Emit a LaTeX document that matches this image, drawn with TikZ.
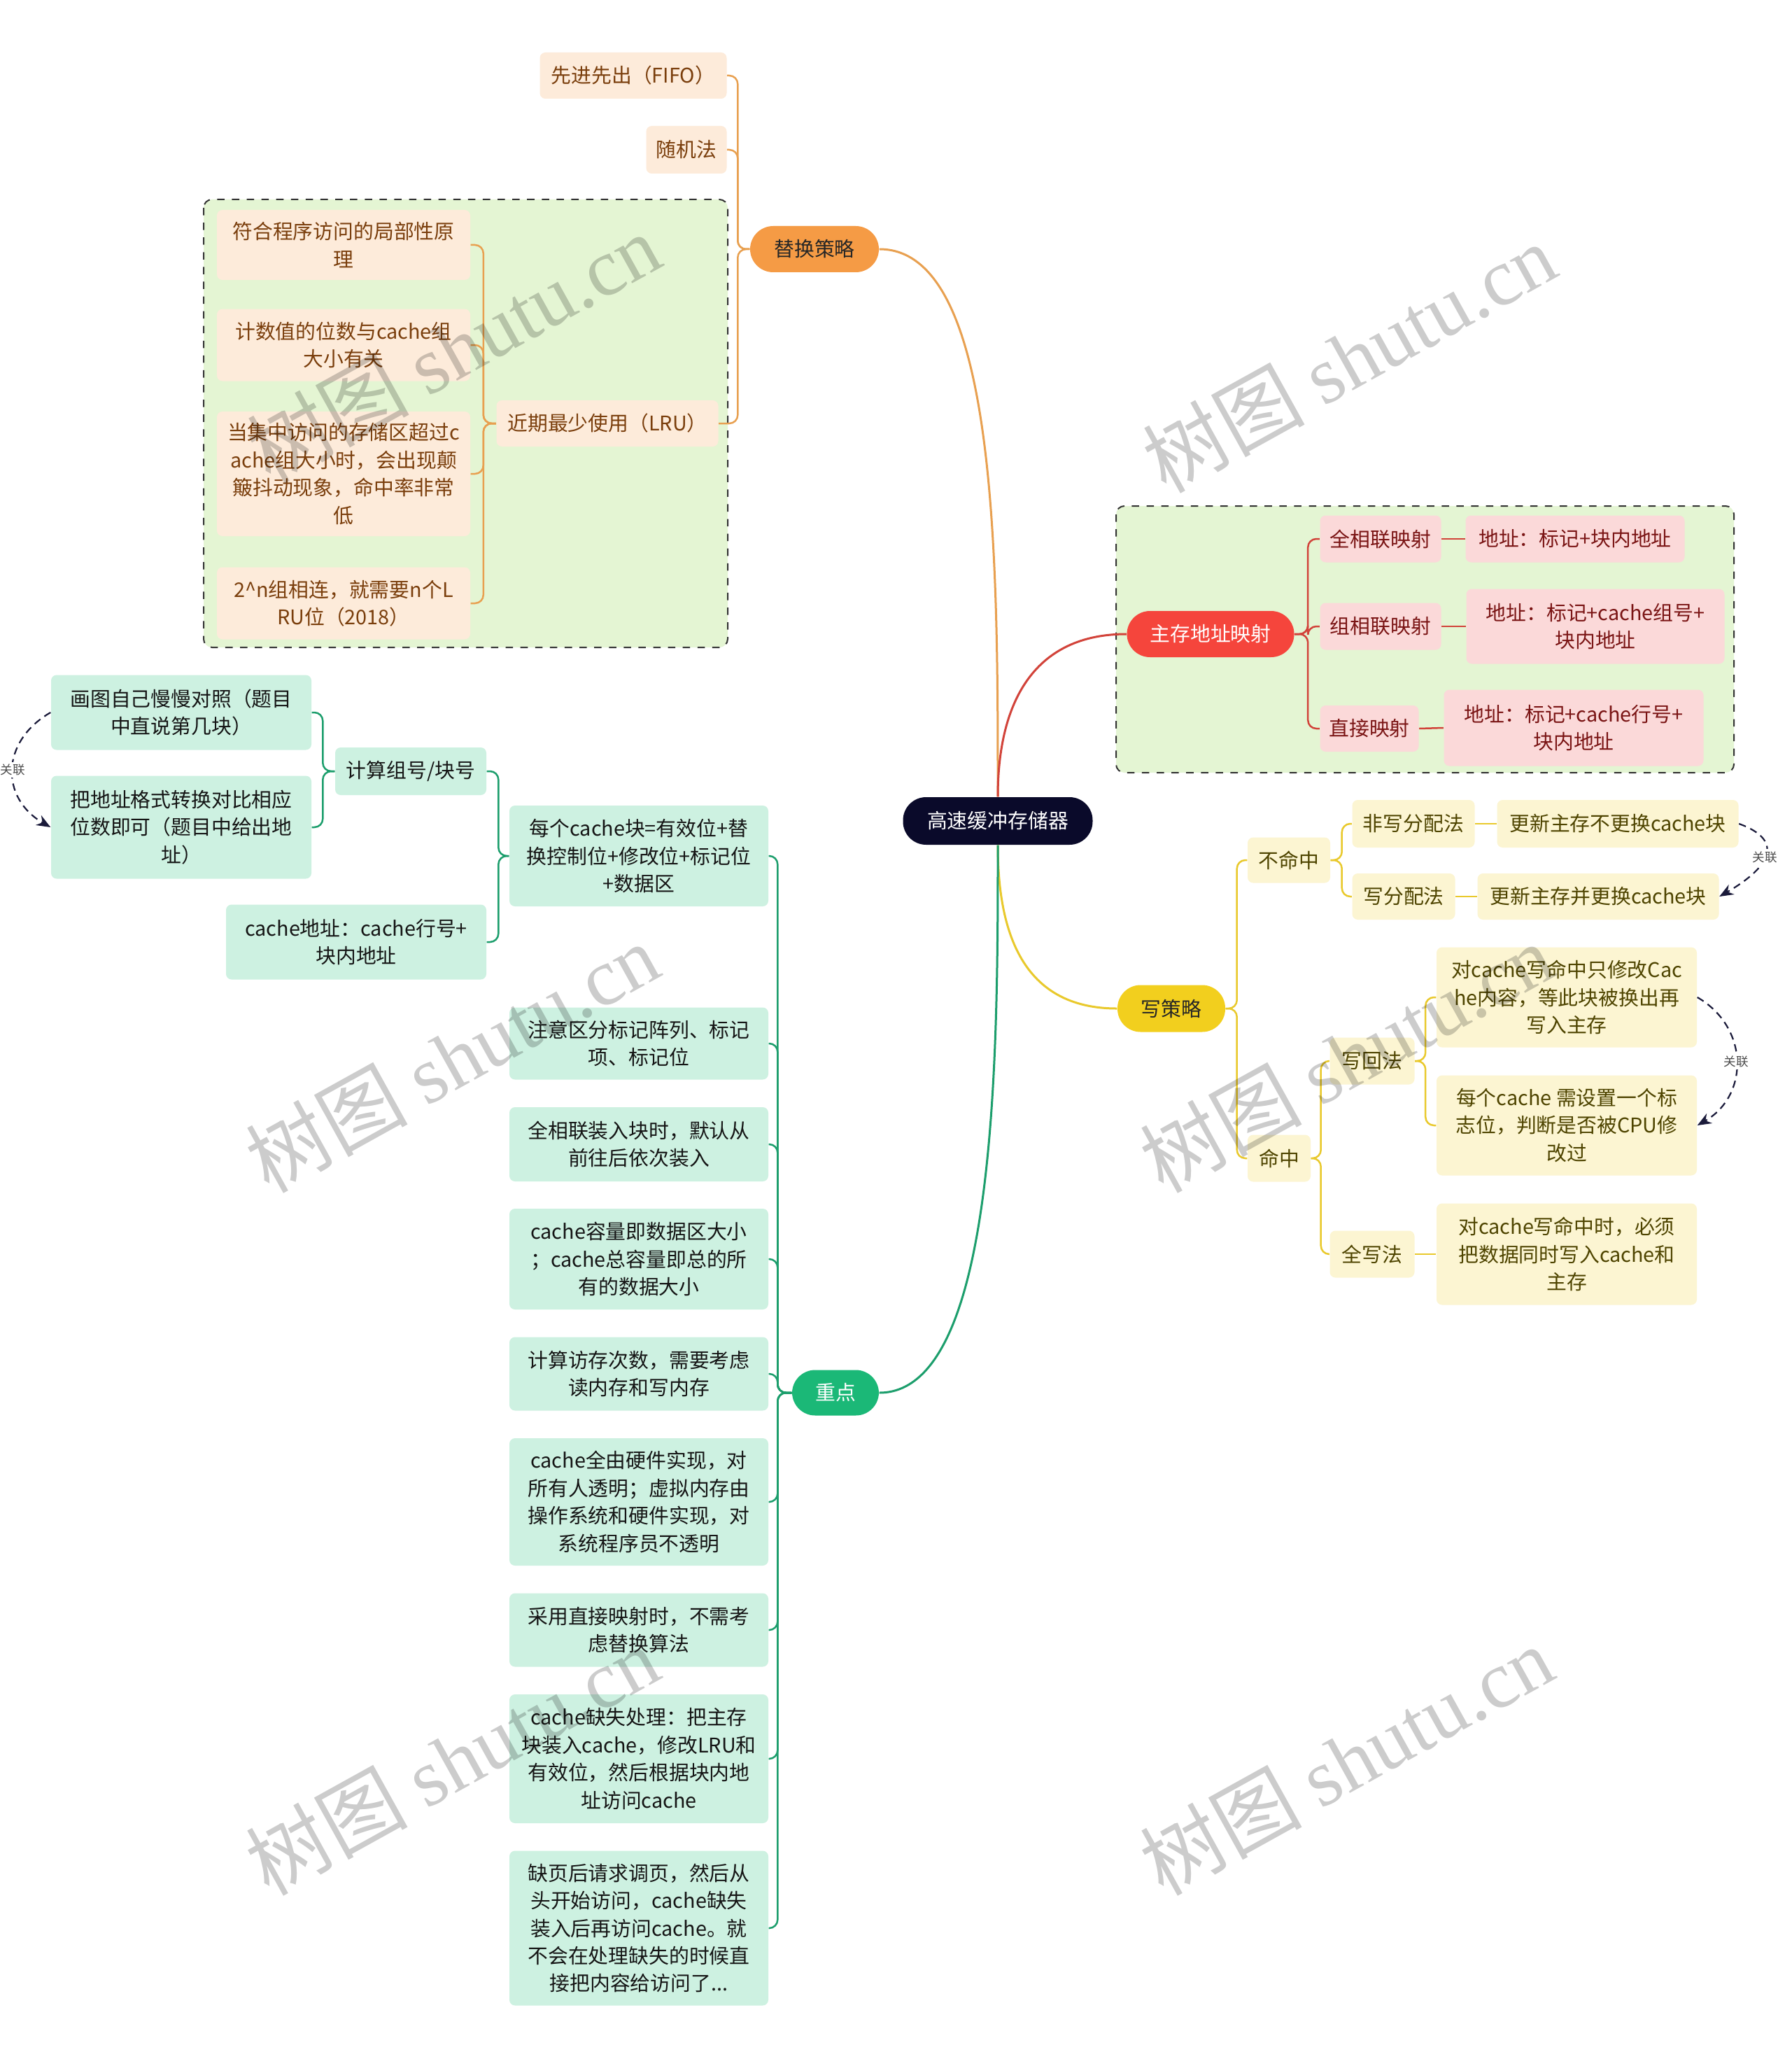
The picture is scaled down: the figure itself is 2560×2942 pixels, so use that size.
\documentclass[tikz,border=0pt]{standalone}
\usepackage{fontspec}
\setmainfont{Noto Sans CJK SC}
\newfontfamily\wmserif{Liberation Serif}
\usetikzlibrary{arrows.meta,positioning}
\definecolor{rootc}{HTML}{0A0A2A}
\definecolor{omain}{HTML}{F59B45}
\definecolor{oline}{HTML}{E8A050}
\definecolor{ofill}{HTML}{FDEBDA}
\definecolor{otext}{HTML}{7A3E0C}
\definecolor{rmain}{HTML}{F5453C}
\definecolor{rline}{HTML}{D2433A}
\definecolor{rfill}{HTML}{FBD9D9}
\definecolor{rtext}{HTML}{7A1414}
\definecolor{ymain}{HTML}{F2CF1E}
\definecolor{yline}{HTML}{E9C92C}
\definecolor{yfill}{HTML}{FCF5D2}
\definecolor{ytext}{HTML}{4E4400}
\definecolor{gmain}{HTML}{1BB877}
\definecolor{gline}{HTML}{1C9E6C}
\definecolor{gfill}{HTML}{CDF1E1}
\definecolor{gtext}{HTML}{151515}
\definecolor{grpfill}{HTML}{E4F5D3}
\definecolor{relc}{HTML}{1A1A3A}

\begin{document}
\begin{tikzpicture}[x=0.1mm, y=-0.1mm,
box/.style={inner sep=0pt, align=center, rounded corners=0.8mm, font=\fontsize{8.2}{11.2}\selectfont},
mainbox/.style={box, rounded corners=3.3mm},
obox/.style={box, fill=ofill, text=otext},
rbox/.style={box, fill=rfill, text=rtext},
ybox/.style={box, fill=yfill, text=ytext},
gbox/.style={box, fill=gfill, text=gtext},
group/.style={draw=black!80, dashed, fill=grpfill, rounded corners=1.2mm, line width=0.2mm},
olink/.style={draw=oline, line width=0.25mm, rounded corners=1.2mm},
rlink/.style={draw=rline, line width=0.25mm, rounded corners=1.2mm},
ylink/.style={draw=yline, line width=0.25mm, rounded corners=1.2mm},
glink/.style={draw=gline, line width=0.25mm, rounded corners=1.2mm},
rel/.style={draw=relc, densely dashed, line width=0.22mm, -{Stealth[length=2mm, width=1.6mm]}},
rellabel/.style={fill=white, inner sep=0.3mm, text=black!70, font=\fontsize{5}{6}\selectfont},
wmark/.style={rotate=29, text=black, text opacity=0.2, font=\fontsize{33}{33}\selectfont}
]
\useasboundingbox (0,0) rectangle (2560,2942);
\fill[white] (0,0) rectangle (2560,2942);

% group frames
\draw[group] (291,285) rectangle (1040,925);
\draw[group] (1595,723) rectangle (2478,1104);

% centre
\node[mainbox, fill=rootc, text=white, minimum width=27.1mm, minimum height=6.8mm] (cache) at (1426,1173) {高速缓冲存储器};

% replacement
\node[mainbox, fill=omain, text=black!85, minimum width=18.4mm, minimum height=6.6mm] (repl) at (1164,356) {替换策略};
\node[obox, minimum width=26.7mm, minimum height=6.6mm] (fifo) at (905,108) {先进先出（FIFO）};
\node[obox, minimum width=11.5mm, minimum height=6.8mm] (rand) at (981,214) {随机法};
\node[obox, minimum width=31.7mm, minimum height=6.6mm] (lru) at (868,605) {近期最少使用（LRU）};
\node[obox, minimum width=36.2mm, minimum height=10mm] (lru1) at (491,350) {符合程序访问的局部性原\\理};
\node[obox, minimum width=36.2mm, minimum height=10.3mm] (lru2) at (491,493) {计数值的位数与cache组\\大小有关};
\node[obox, minimum width=36.2mm, minimum height=17.8mm] (lru3) at (491,677) {当集中访问的存储区超过c\\ache组大小时，会出现颠\\簸抖动现象，命中率非常\\低};
\node[obox, minimum width=36.2mm, minimum height=10.3mm] (lru4) at (491,862) {2\textasciicircum n组相连，就需要n个L\\RU位（2018）};

% mapping
\node[mainbox, fill=rmain, text=white, minimum width=23.9mm, minimum height=6.6mm] (map) at (1730,906) {主存地址映射};
\node[rbox, minimum width=17.3mm, minimum height=6.7mm] (fullmap) at (1973,770) {全相联映射};
\node[rbox, minimum width=31.3mm, minimum height=6.7mm] (fulladdr) at (2251,770) {地址：标记+块内地址};
\node[rbox, minimum width=17.3mm, minimum height=6.7mm] (setmap) at (1973,895) {组相联映射};
\node[rbox, minimum width=36.9mm, minimum height=10.7mm] (setaddr) at (2280,895) {地址：标记+cache组号+\\块内地址};
\node[rbox, minimum width=14.1mm, minimum height=6.6mm] (dirmap) at (1957,1041) {直接映射};
\node[rbox, minimum width=37.1mm, minimum height=10.9mm] (diraddr) at (2249,1040) {地址：标记+cache行号+\\块内地址};

% write policy
\node[mainbox, fill=ymain, text=black!85, minimum width=15.4mm, minimum height=6.7mm] (wpol) at (1674,1441) {写策略};
\node[ybox, minimum width=11.8mm, minimum height=6.5mm] (miss) at (1842,1229) {不命中};
\node[ybox, minimum width=17.5mm, minimum height=6.8mm] (nowa) at (2020,1177) {非写分配法};
\node[ybox, minimum width=34.5mm, minimum height=6.8mm] (nowaupd) at (2312,1177) {更新主存不更换cache块};
\node[ybox, minimum width=14.7mm, minimum height=6.6mm] (wa) at (2006,1281) {写分配法};
\node[ybox, minimum width=34.5mm, minimum height=6.6mm] (waupd) at (2284,1281) {更新主存并更换cache块};
\node[ybox, minimum width=9mm, minimum height=6.7mm] (hit) at (1828,1655) {命中};
\node[ybox, minimum width=12.1mm, minimum height=6.7mm] (wb) at (1961,1516) {写回法};
\node[ybox, minimum width=37.2mm, minimum height=14.3mm] (wb1) at (2239,1425) {对cache写命中只修改Cac\\he内容，等此块被换出再\\写入主存};
\node[ybox, minimum width=37.2mm, minimum height=14.3mm] (wb2) at (2239,1608) {每个cache 需设置一个标\\志位，判断是否被CPU修\\改过};
\node[ybox, minimum width=12.1mm, minimum height=6.7mm] (wt) at (1961,1792) {全写法};
\node[ybox, minimum width=37.2mm, minimum height=14.5mm] (wt1) at (2239,1792) {对cache写命中时，必须\\把数据同时写入cache和\\主存};

% key points
\node[mainbox, fill=gmain, text=white, minimum width=12.4mm, minimum height=6.5mm] (key) at (1194,1990) {重点};
\node[gbox, minimum width=37mm, minimum height=14.4mm] (blk) at (913,1223) {每个cache块=有效位+替\\换控制位+修改位+标记位\\+数据区};
\node[gbox, minimum width=21.6mm, minimum height=6.8mm] (calc) at (587,1102) {计算组号/块号};
\node[gbox, minimum width=37.2mm, minimum height=10.7mm] (calc1) at (259,1018) {画图自己慢慢对照（题目\\中直说第几块）};
\node[gbox, minimum width=37.2mm, minimum height=14.7mm] (calc2) at (259,1182) {把地址格式转换对比相应\\位数即可（题目中给出地\\址）};
\node[gbox, minimum width=37.2mm, minimum height=10.7mm] (caddr) at (509,1346) {cache地址：cache行号+\\块内地址};
\node[gbox, minimum width=37mm, minimum height=10.3mm] (k1) at (913,1491) {注意区分标记阵列、标记\\项、标记位};
\node[gbox, minimum width=37mm, minimum height=10.6mm] (k2) at (913,1635) {全相联装入块时，默认从\\前往后依次装入};
\node[gbox, minimum width=37mm, minimum height=14.4mm] (k3) at (913,1799) {cache容量即数据区大小\\；cache总容量即总的所\\有的数据大小};
\node[gbox, minimum width=37mm, minimum height=10.5mm] (k4) at (913,1963) {计算访存次数，需要考虑\\读内存和写内存};
\node[gbox, minimum width=37mm, minimum height=18.2mm] (k5) at (913,2146) {cache全由硬件实现，对\\所有人透明；虚拟内存由\\操作系统和硬件实现，对\\系统程序员不透明};
\node[gbox, minimum width=37mm, minimum height=10.5mm] (k6) at (913,2329) {采用直接映射时，不需考\\虑替换算法};
\node[gbox, minimum width=37mm, minimum height=18.4mm] (k7) at (913,2513) {cache缺失处理：把主存\\块装入cache，修改LRU和\\有效位，然后根据块内地\\址访问cache};
\node[gbox, minimum width=37mm, minimum height=22.1mm] (k8) at (913,2755) {缺页后请求调页，然后从\\头开始访问，cache缺失\\装入后再访问cache。就\\不会在处理缺失的时候直\\接把内容给访问了...};

% main branches
\draw[olink, line width=0.3mm] (cache.north) .. controls (1426,800) and (1426,356) .. (repl.east);
\draw[rlink, line width=0.3mm] (cache.north) .. controls (1426,1000) and (1480,906) .. (map.west);
\draw[ylink, line width=0.3mm] (cache.south) .. controls (1426,1330) and (1460,1441) .. (wpol.west);
\draw[glink, line width=0.3mm] (cache.south) .. controls (1426,1500) and (1426,1990) .. (key.east);

% sub branches
\foreach \c in {fifo,rand,lru} \draw[olink] (repl.west) -- ++(-17,0) |- (\c.east);
\foreach \c in {lru1,lru2,lru3,lru4} \draw[olink] (lru.west) -- ++(-18,0) |- (\c.east);
\foreach \c in {fullmap,setmap,dirmap} \draw[rlink] (map.east) -- ++(19,0) |- (\c.west);
\draw[rlink] (fullmap.east) -- (fulladdr.west);
\draw[rlink] (setmap.east) -- (setaddr.west);
\draw[rlink] (dirmap.east) -- (diraddr.west);
\foreach \c in {miss,hit} \draw[ylink] (wpol.east) -- ++(16,0) |- (\c.west);
\foreach \c in {nowa,wa} \draw[ylink] (miss.east) -- ++(16,0) |- (\c.west);
\foreach \c in {wb,wt} \draw[ylink] (hit.east) -- ++(14,0) |- (\c.west);
\foreach \c in {wb1,wb2} \draw[ylink] (wb.east) -- ++(15,0) |- (\c.west);
\draw[ylink] (nowa.east) -- (nowaupd.west);
\draw[ylink] (wa.east) -- (waupd.west);
\draw[ylink] (wt.east) -- (wt1.west);
\foreach \c in {blk,k1,k2,k3,k4,k5,k6,k7,k8} \draw[glink] (key.west) -- ++(-20,0) |- (\c.east);
\foreach \c in {calc,caddr} \draw[glink] (blk.west) -- ++(-15,0) |- (\c.east);
\foreach \c in {calc1,calc2} \draw[glink] (calc.west) -- ++(-17,0) |- (\c.east);

% relations
\draw[rel] (nowaupd.east) to[out=-20, in=30, looseness=1.8] node[rellabel] {关联} (waupd.east);
\draw[rel] (wb1.east) to[out=-30, in=30, looseness=1.2] node[rellabel] {关联} (wb2.east);
\draw[rel] (calc1.west) to[out=210, in=150, looseness=1.3] node[rellabel] {关联} (calc2.west);

% watermarks
\foreach \p [count=\i] in {(648,497),(1928,511),(646,1511),(1924,1511),(646,2515),(1924,2515)}
  \node[wmark] (wm\i) at \p {树图 {\wmserif shutu.cn}};
\end{tikzpicture}
\end{document}
